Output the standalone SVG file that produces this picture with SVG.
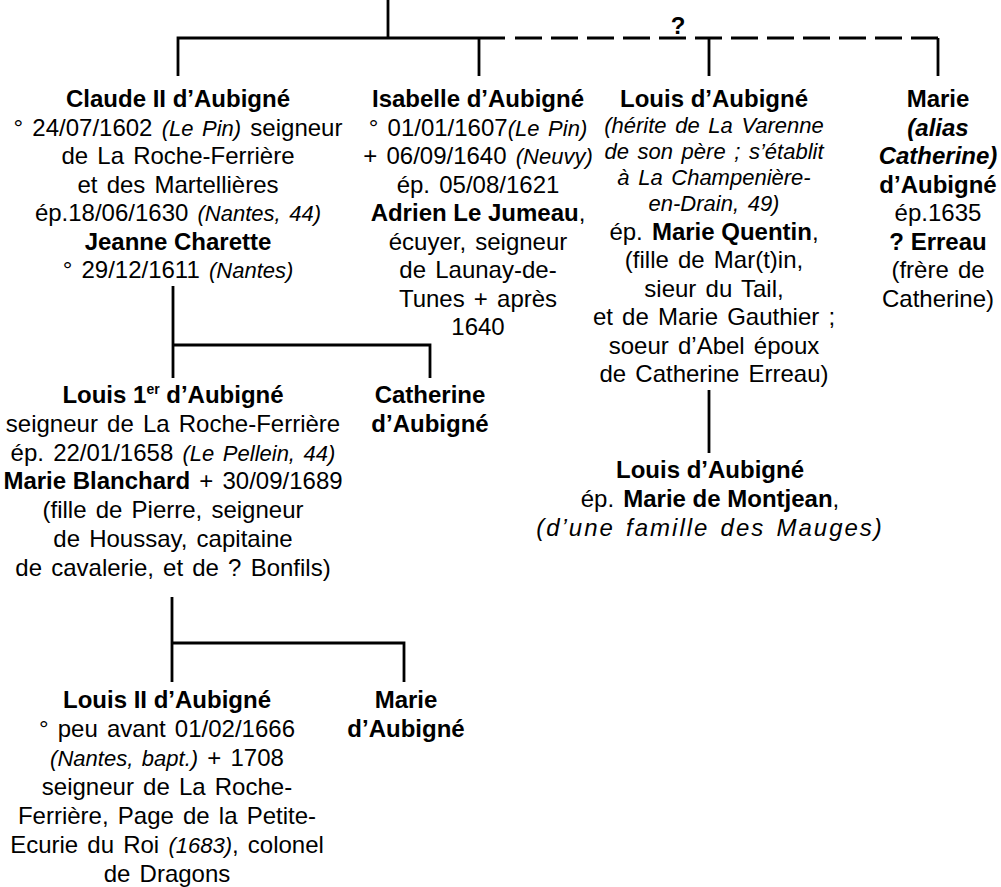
<svg xmlns="http://www.w3.org/2000/svg" width="1001" height="887" viewBox="0 0 1001 887">
<style>
text{font-family:"Liberation Sans",Arial,sans-serif;font-size:24px;fill:#000;text-anchor:middle;word-spacing:2.5px}
.b{font-weight:bold;word-spacing:0}
.i{font-style:italic;font-size:22px}
.li{font-style:italic;font-size:22px}
.ln{stroke:#000;stroke-width:2.8;fill:none}
.dash{stroke-dasharray:27 9}
</style>
<rect width="1001" height="887" fill="#fff"/>
<g id="connectors">
<path class="ln" d="M388,0V38M178,76V38H505M479,38V76M709,38V76M938,38V76"/>
<path class="ln dash" d="M515,38H938"/>
<path class="ln" d="M173,286V378M173,345H430V378"/>
<path class="ln" d="M709,390V453"/>
<path class="ln" d="M172,597V682M172,643H404V682"/>
</g>
<text class="b" x="678" y="34">?</text>
<g id="claude">
<text x="178" y="107" class="b">Claude II d’Aubigné</text>
<text x="178" y="135.5">° 24/07/1602 <tspan class="i">(Le Pin)</tspan> seigneur</text>
<text x="178" y="164">de La Roche-Ferrière</text>
<text x="178" y="192.5">et des Martellières</text>
<text x="178" y="221">ép.18/06/1630 <tspan class="i">(Nantes, 44)</tspan></text>
<text x="178" y="249.5" class="b">Jeanne Charette</text>
<text x="178" y="278">° 29/12/1611 <tspan class="i">(Nantes)</tspan></text>
</g>
<g id="isabelle">
<text x="478" y="107" class="b">Isabelle d’Aubigné</text>
<text x="478" y="135.5">° 01/01/1607<tspan class="i">(Le Pin)</tspan></text>
<text x="478" y="164">+ 06/09/1640 <tspan class="i">(Neuvy)</tspan></text>
<text x="478" y="192.5">ép. 05/08/1621</text>
<text x="478" y="221"><tspan class="b">Adrien Le Jumeau</tspan>,</text>
<text x="478" y="249.5">écuyer, seigneur</text>
<text x="478" y="278">de Launay-de-</text>
<text x="478" y="306.5">Tunes + après</text>
<text x="478" y="335">1640</text>
</g>
<g id="louis-varenne">
<text x="714" y="107" class="b">Louis d’Aubigné</text>
<text x="714" y="133" class="li">(hérite de La Varenne</text>
<text x="714" y="159" class="li">de son père ; s’établit</text>
<text x="714" y="185" class="li">à La Champenière-</text>
<text x="714" y="211" class="li">en-Drain, 49)</text>
<text x="714" y="239.5">ép. <tspan class="b">Marie Quentin</tspan>,</text>
<text x="714" y="268">(fille de Mar(t)in,</text>
<text x="714" y="296.5">sieur du Tail,</text>
<text x="714" y="325">et de Marie Gauthier ;</text>
<text x="714" y="353.5">soeur d’Abel époux</text>
<text x="714" y="382">de Catherine Erreau)</text>
</g>
<g id="marie-catherine">
<text x="938" y="107" class="b">Marie</text>
<text x="938" y="135.5" class="b" font-style="italic">(alias</text>
<text x="938" y="164" class="b" font-style="italic">Catherine)</text>
<text x="938" y="192.5" class="b">d’Aubigné</text>
<text x="938" y="221">ép.1635</text>
<text x="938" y="249.5" class="b">? Erreau</text>
<text x="938" y="278">(frère de</text>
<text x="938" y="306.5">Catherine)</text>
</g>
<g id="louis-1er">
<text x="173" y="403" class="b">Louis 1<tspan font-size="14" dy="-9">er</tspan><tspan dy="9"> d’Aubigné</tspan></text>
<text x="173" y="431.8">seigneur de La Roche-Ferrière</text>
<text x="173" y="460.6">ép. 22/01/1658 <tspan class="i">(Le Pellein, 44)</tspan></text>
<text x="173" y="489.4"><tspan class="b">Marie Blanchard</tspan> + 30/09/1689</text>
<text x="173" y="518.2">(fille de Pierre, seigneur</text>
<text x="173" y="547">de Houssay, capitaine</text>
<text x="173" y="575.8">de cavalerie, et de ? Bonfils)</text>
</g>
<g id="catherine">
<text x="430" y="403" class="b">Catherine</text>
<text x="430" y="431.8" class="b">d’Aubigné</text>
</g>
<g id="louis-montjean">
<text x="710" y="478" class="b">Louis d’Aubigné</text>
<text x="710" y="507">ép. <tspan class="b">Marie de Montjean</tspan>,</text>
<text x="710" y="536" font-style="italic" letter-spacing="2" word-spacing="6">(d’une famille des Mauges)</text>
</g>
<g id="louis-ii">
<text x="167" y="708" class="b">Louis II d’Aubigné</text>
<text x="167" y="737">° peu avant 01/02/1666</text>
<text x="167" y="766"><tspan class="i">(Nantes, bapt.)</tspan> + 1708</text>
<text x="167" y="795">seigneur de La Roche-</text>
<text x="167" y="824">Ferrière, Page de la Petite-</text>
<text x="167" y="853">Ecurie du Roi <tspan class="i">(1683)</tspan>, colonel</text>
<text x="167" y="882">de Dragons</text>
</g>
<g id="marie">
<text x="406" y="708" class="b">Marie</text>
<text x="406" y="737" class="b">d’Aubigné</text>
</g>
</svg>
